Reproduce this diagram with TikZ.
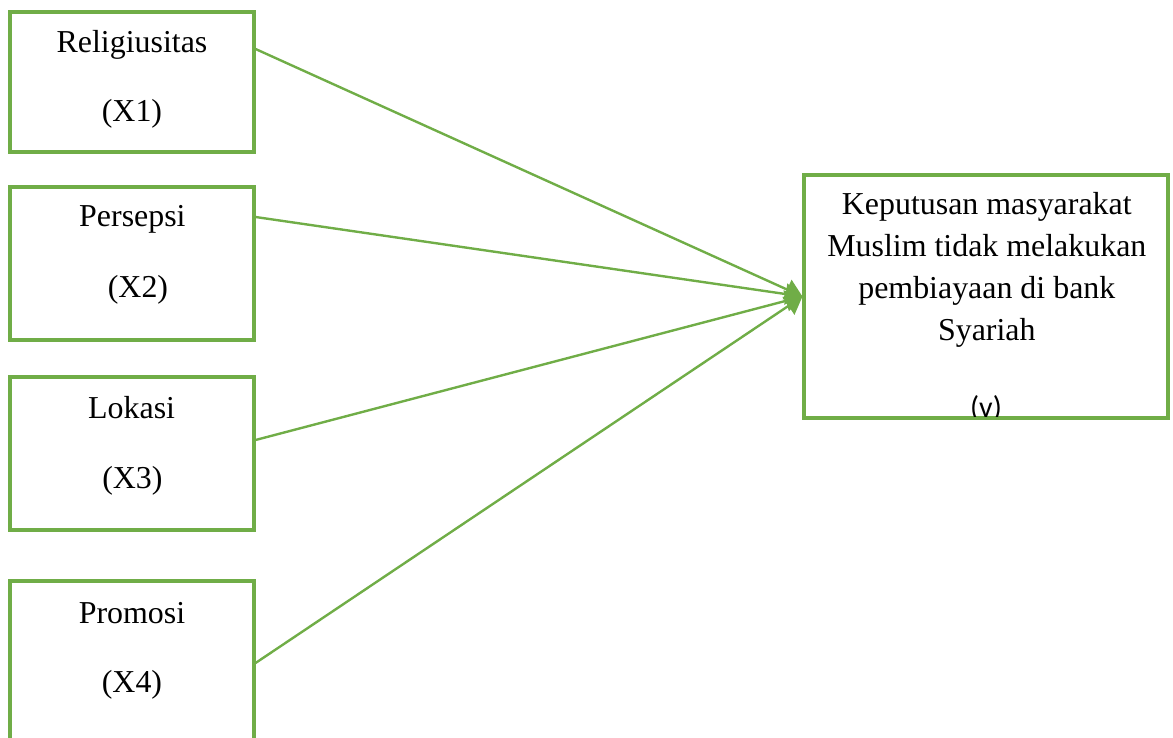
\documentclass[tikz,border=0pt]{standalone}
\usepackage{fontspec}
\setmainfont{Liberation Serif}
\newfontfamily\calibrifont{Carlito}
\usetikzlibrary{arrows.meta}
\definecolor{lgreen}{RGB}{112,173,71}

\tikzset{
    box/.style={draw=lgreen, line width=2.2pt, rectangle, minimum width=6.1cm, inner sep=0pt},
    lbl/.style={anchor=base, inner sep=0pt, font=\fontsize{22.7}{29.65}\selectfont},
    arr/.style={draw=lgreen, line width=1.7pt, -{Triangle[length=12pt,width=15pt]}}
}

\begin{document}
\begin{tikzpicture}
        \useasboundingbox (0,0) rectangle (29.325,-18.45);
        % variabel bebas
        \node[box, minimum height=3.5cm] (x1) at (3.3,-2.05) {};
        \node[box, minimum height=3.825cm] (x2) at (3.3,-6.5875) {};
        \node[box, minimum height=3.825cm] (x3) at (3.3,-11.3375) {};
        \node[box, minimum height=4.475cm] (x4) at (3.3,-16.7625) {};
        \node[lbl] (t1a) at (3.3,-1.325) {Religiusitas};
        \node[lbl] (t1b) at (3.3,-3.05) {(X1)};
        \node[lbl] (t2a) at (3.31,-5.675) {Persepsi};
        \node[lbl] (t2b) at (3.45,-7.425) {(X2)};
        \node[lbl] (t3a) at (3.29,-10.45) {Lokasi};
        \node[lbl] (t3b) at (3.31,-12.2) {(X3)};
        \node[lbl] (t4a) at (3.3,-15.575) {Promosi};
        \node[lbl] (t4b) at (3.3,-17.3) {(X4)};
        % variabel terikat
        \node[box, minimum width=9.1cm, minimum height=6.075cm] (y) at (24.65,-7.4125) {};
        \node[lbl, align=center] (ty) at (24.67,-8.5)
            {Keputusan masyarakat\\Muslim tidak melakukan\\pembiayaan di bank\\Syariah};
        \begin{scope}
            \clip ([yshift=2.2pt]y.south west) rectangle (y.north east);
            \node[anchor=base, inner sep=0pt, font=\calibrifont\fontsize{21.4}{26}\selectfont] (tyv) at (24.65,-10.44) {(v)};
        \end{scope}
        % panah
        \draw[arr] ([yshift=0.825cm]x1.east) -- (y.west);
        \draw[arr] ([yshift=1.1625cm]x2.east) -- (y.west);
        \draw[arr] ([yshift=0.3375cm]x3.east) -- (y.west);
        \draw[arr] ([yshift=0.1875cm]x4.east) -- (y.west);
\end{tikzpicture}
\end{document}
